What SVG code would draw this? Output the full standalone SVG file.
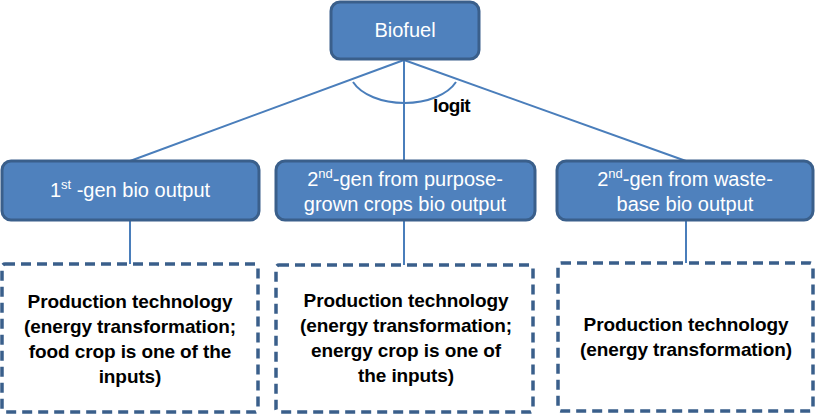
<svg xmlns="http://www.w3.org/2000/svg" width="815" height="414" viewBox="0 0 815 414">
<style>
.box{fill:#4f81bd;stroke:#3a5f8b;stroke-width:3}
.dash{fill:#fff;stroke:#3a5f8b;stroke-width:3.5;stroke-dasharray:10 6}
.wt{fill:#fff;font-family:"Liberation Sans",Arial,sans-serif;font-size:20px;text-anchor:middle}
.bt{fill:#000;font-family:"Liberation Sans",Arial,sans-serif;font-size:19px;font-weight:bold;text-anchor:middle;letter-spacing:-0.1px}
.ln{stroke:#4a7ebb;stroke-width:2;fill:none}
</style>
<rect width="815" height="414" fill="#fff"/>
<g id="connectors">
<line class="ln" x1="404" y1="60" x2="130" y2="161"/>
<line class="ln" x1="404" y1="60" x2="404" y2="161"/>
<line class="ln" x1="404" y1="60" x2="686" y2="161"/>
<line class="ln" x1="130" y1="220" x2="130" y2="264"/>
<line class="ln" x1="404" y1="220" x2="404" y2="265"/>
<line class="ln" x1="686" y1="220" x2="686" y2="263"/>
<path class="ln" d="M353,82 A55.3,33 0 0 0 456,82"/>
<text x="433" y="112" style="font-family:'Liberation Sans',Arial,sans-serif;font-size:19px;font-weight:bold;letter-spacing:-0.6px" fill="#000">logit</text>
</g>
<g id="biofuel">
<rect class="box" x="331" y="2" width="148" height="57" rx="9"/>
<text class="wt" x="405" y="37" font-size="21">Biofuel</text>
</g>
<g id="gen1">
<rect class="box" x="2" y="161" width="257" height="59" rx="9"/>
<text class="wt" x="130" y="197">1<tspan font-size="13" dy="-8">st</tspan><tspan dy="8"> -gen bio output</tspan></text>
</g>
<g id="gen2crops">
<rect class="box" x="276" y="161" width="259" height="59" rx="9"/>
<text class="wt" x="405" y="186">2<tspan font-size="13" dy="-8">nd</tspan><tspan dy="8">-gen from purpose-</tspan></text>
<text class="wt" x="405" y="211">grown crops bio output</text>
</g>
<g id="gen2waste">
<rect class="box" x="557" y="161" width="256" height="59" rx="9"/>
<text class="wt" x="685" y="186">2<tspan font-size="13" dy="-8">nd</tspan><tspan dy="8">-gen from waste-</tspan></text>
<text class="wt" x="685" y="211">base bio output</text>
</g>
<g id="tech1">
<rect class="dash" x="2" y="264" width="256" height="148" rx="3"/>
<text class="bt" x="130" y="308">Production technology</text>
<text class="bt" x="130" y="333">(energy transformation;</text>
<text class="bt" x="130" y="358">food crop is one of the</text>
<text class="bt" x="130" y="383">inputs)</text>
</g>
<g id="tech2">
<rect class="dash" x="276" y="265" width="257" height="147" rx="3"/>
<text class="bt" x="406" y="307">Production technology</text>
<text class="bt" x="406" y="332">(energy transformation;</text>
<text class="bt" x="406" y="357">energy crop is one of</text>
<text class="bt" x="406" y="382">the inputs)</text>
</g>
<g id="tech3">
<rect class="dash" x="558" y="263" width="255" height="148" rx="3"/>
<text class="bt" x="686" y="331">Production technology</text>
<text class="bt" x="686" y="356">(energy transformation)</text>
</g>
</svg>
